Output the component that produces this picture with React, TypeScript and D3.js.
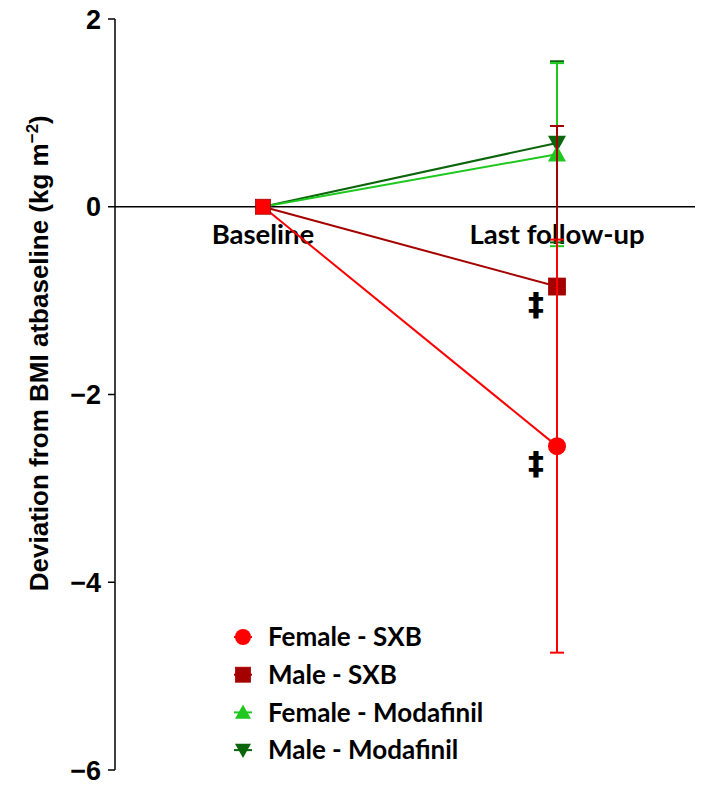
import React from 'react';
import * as d3 from 'd3';

// time points on the x axis
const timepoints = ['Baseline', 'Last follow-up'];
const yTicks = [2, 0, -2, -4, -6];

// series drawn back to front (modafinil first, female SXB on top)
const seriesNames = ['Male - Modafinil', 'Female - Modafinil', 'Male - SXB', 'Female - SXB'];
const seriesColors = ['#0b650b', '#1ec81e', '#a50000', '#ff0000'];
const seriesSymbols = ['triangleDown', 'triangleUp', 'square', 'circle'];
const meanValues = [
  [0, 0.68],
  [0, 0.56],
  [0, -0.85],
  [0, -2.55],
];
const lowerValues = [-0.38, -0.42, -2.56, -4.75];
const upperValues = [1.55, 1.53, 0.86, -0.35];

// legend order as in the figure
const legendOrder = ['Female - SXB', 'Male - SXB', 'Female - Modafinil', 'Male - Modafinil'];
// marks for significance
const daggerSeries = ['Male - SXB', 'Female - SXB'];

const W = 709;
const H = 792;

function Marker({ kind, x, y, color, big }: { kind: string; x: number; y: number; color: string; big?: boolean }) {
  if (kind === 'circle') return <circle cx={x} cy={y} r={big ? 9 : 8} fill={color} />;
  if (kind === 'square') {
    const s = big ? 17 : 15;
    return <rect x={x - s / 2} y={y - s / 2} width={s} height={s} fill={color} stroke="#a50000" strokeWidth={0.8} />;
  }
  const s = big ? 9 : 8;
  const dir = kind === 'triangleUp' ? 1 : -1;
  const pts = [
    [x, y - dir * s],
    [x - s, y + dir * s * 0.8],
    [x + s, y + dir * s * 0.8],
  ];
  return <polygon points={pts.map(p => p.join(',')).join(' ')} fill={color} />;
}

export default function App() {
  const y = d3.scaleLinear().domain([2, -6]).range([19, 770]);
  const x = d3.scalePoint().domain(timepoints).range([263, 557]);
  const axisX = 115;
  const labelFont = 'Lato, Calibri, "Open Sans", sans-serif';

  return (
    <svg width={W} height={H} style={{ position: 'absolute', left: 0, top: 0, background: '#fff' }}>
      {/* y axis */}
      <line x1={axisX} x2={axisX} y1={y(2)} y2={y(-6)} stroke="#000" strokeWidth={1.5} />
      {yTicks.map(t => (
        <g key={t}>
          <line x1={axisX - 7} x2={axisX} y1={y(t)} y2={y(t)} stroke="#000" strokeWidth={1.5} />
          <text x={101} y={y(t)} dy="0.36em" textAnchor="end" fontFamily="Arial, 'Liberation Sans', sans-serif"
            fontWeight="bold" fontSize={27}>{t < 0 ? '\u2212' + Math.abs(t) : t}</text>
        </g>
      ))}
      <text transform={`translate(48,${y(-1.56)}) rotate(-90)`} textAnchor="middle"
        fontFamily="Arial, 'Liberation Sans', sans-serif" fontWeight="bold" fontSize={26}>
        Deviation from BMI atbaseline (kg m<tspan dy={-10} fontSize={17}>{'\u22122'}</tspan><tspan dy={10}>)</tspan>
      </text>

      {/* zero line */}
      <line x1={axisX} x2={695} y1={y(0)} y2={y(0)} stroke="#000" strokeWidth={1.5} />
      {timepoints.map(tp => (
        <text key={tp} x={x(tp)} y={y(0) + 37} textAnchor="middle" fontFamily={labelFont}
          fontWeight="bold" fontSize={27.5}>{tp}</text>
      ))}

      {/* series */}
      {seriesNames.map((name, i) => {
        const color = seriesColors[i];
        const line = d3.line<number>().x((_, j) => x(timepoints[j])!).y(v => y(v));
        const lx = x(timepoints[1])!;
        return (
          <g key={name}>
            <path d={line(meanValues[i]) || ''} fill="none" stroke={color} strokeWidth={2} />
            <line x1={lx} x2={lx} y1={y(lowerValues[i])} y2={y(upperValues[i])} stroke={color} strokeWidth={2} />
            <line x1={lx - 7} x2={lx + 7} y1={y(lowerValues[i])} y2={y(lowerValues[i])} stroke={color} strokeWidth={2} />
            <line x1={lx - 7} x2={lx + 7} y1={y(upperValues[i])} y2={y(upperValues[i])} stroke={color} strokeWidth={2} />
            <Marker kind={seriesSymbols[i]} x={lx} y={y(meanValues[i][1])} color={color} big />
          </g>
        );
      })}
      {/* error bar lines on top of the markers */}
      {seriesNames.slice(2).map((name, k) => {
        const i = k + 2;
        const lx = x(timepoints[1])!;
        return (
          <line key={name} x1={lx} x2={lx} y1={y(lowerValues[i])} y2={y(upperValues[i])}
            stroke={seriesColors[i]} strokeWidth={2} />
        );
      })}
      {/* baseline marker */}
      <Marker kind="square" x={x(timepoints[0])!} y={y(0)} color="#ff0000" />

      {/* significance marks */}
      {daggerSeries.map(name => {
        const i = seriesNames.indexOf(name);
        return (
          <text key={name} x={536} y={y(meanValues[i][1]) + 28} textAnchor="middle"
            fontFamily="'DejaVu Sans', sans-serif" fontWeight="bold" fontSize={32}>{'\u2021'}</text>
        );
      })}

      {/* legend */}
      {legendOrder.map((name, k) => {
        const i = seriesNames.indexOf(name);
        const ly = 637 + k * 37.7;
        return (
          <g key={name}>
            <line x1={234} x2={252} y1={ly} y2={ly} stroke={seriesColors[i]} strokeWidth={2} />
            <Marker kind={seriesSymbols[i]} x={243} y={ly} color={seriesColors[i]} />
            <text x={268} y={ly} dy="0.36em" fontFamily={labelFont} fontWeight="bold" fontSize={26}>{name}</text>
          </g>
        );
      })}
    </svg>
  );
}
